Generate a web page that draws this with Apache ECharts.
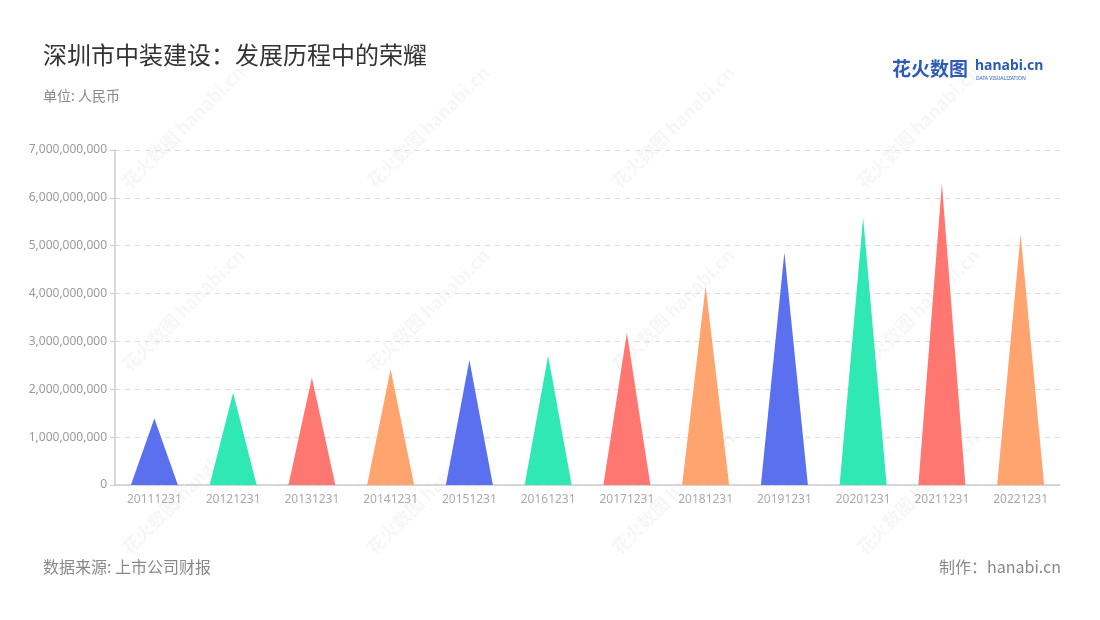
<!DOCTYPE html>
<html><head><meta charset="utf-8">
<script src="https://cdn.jsdelivr.net/npm/echarts@6/dist/echarts.min.js"></script>
<style>html,body{margin:0;padding:0;background:#fff}#c{width:1100px;height:620px}</style>
</head><body><div id="c"></div>
<script>
const categories = ['20111231','20121231','20131231','20141231','20151231','20161231','20171231','20181231','20191231','20201231','20211231','20221231'];
const values = [1390000000,1930000000,2240000000,2420000000,2610000000,2700000000,3180000000,4160000000,4860000000,5590000000,6300000000,5240000000];
const palette = ['#5A70EE','#30E8B3','#FF7770','#FFA36F'];
const yTicks = [0,1000000000,2000000000,3000000000,4000000000,5000000000,6000000000,7000000000];

const chart = echarts.init(document.getElementById('c'), null, {renderer:'canvas'});
const wm = [];
[183,428,673,918].forEach(x=>{[127,310,493].forEach(y=>{
  wm.push({type:'text', x:x, y:y, rotation:Math.PI/4, silent:true, z:-1,
    style:{text:'花火数图 hanabi.cn', fontSize:18, fontWeight:'bold', fill:'rgba(0,0,0,0.035)', align:'center', verticalAlign:'middle', fontFamily:'Noto Sans CJK SC'}});
});});
chart.setOption({
  backgroundColor:'#fff',
  textStyle:{fontFamily:'"Noto Sans CJK SC","Noto Sans",sans-serif'},
  title:[
    {text:'深圳市中装建设：发展历程中的荣耀', left:38, top:38, textStyle:{fontSize:24, fontWeight:'normal', color:'#333'}},
    {text:'单位: 人民币', left:38, top:84, textStyle:{fontSize:14, fontWeight:'normal', color:'#888'}},
    {text:'数据来源: 上市公司财报', left:38, top:554, textStyle:{fontSize:16, fontWeight:'normal', color:'#888'}},
    {text:'制作：hanabi.cn', right:34, top:554, textStyle:{fontSize:16, fontWeight:'normal', color:'#888'}}
  ],
  graphic: wm.concat([
    {type:'text', left:892, top:59, style:{text:'花火数图', fontSize:19, fontWeight:'bold', fill:'#2C5BB8', fontFamily:'Noto Sans CJK SC'}},
    {type:'text', left:975, top:59, style:{text:'hanabi.cn', fontSize:14, fontWeight:'bold', fill:'#2C5BB8', fontFamily:'Noto Sans'}},
    {type:'text', left:976, top:76, style:{text:'DATA VISUALIZATION', fontSize:5, fill:'#2C5BB8', fontFamily:'Noto Sans'}}
  ]),
  grid:{left:115, right:40, top:150, bottom:135},
  xAxis:{type:'category', data:categories,
    axisLine:{lineStyle:{color:'#ccc', width:1.5}},
    axisTick:{alignWithLabel:true, lineStyle:{color:'#ccc'}},
    axisLabel:{color:'#aaa', fontSize:12, margin:9, fontFamily:'Noto Sans'}},
  yAxis:{type:'value', min:0, max:7000000000, interval:1000000000,
    axisLine:{show:true, lineStyle:{color:'#ccc', width:1.5}},
    axisTick:{show:true, lineStyle:{color:'#ccc'}},
    axisLabel:{color:'#999', fontSize:12, margin:8, fontFamily:'Noto Sans',
      formatter:v=>yTicks.includes(v)?v.toLocaleString('en-US'):''},
    splitLine:{lineStyle:{type:[5,5], color:'#ddd'}}},
  series:[{type:'pictorialBar', symbol:'path://M0,100 L50,0 L100,100 Z', barWidth:47,
    symbolSize:['100%','100%'],
    data: values.map((v,i)=>({value:v, itemStyle:{color:palette[i%4]}}))}]
});
</script></body></html>
